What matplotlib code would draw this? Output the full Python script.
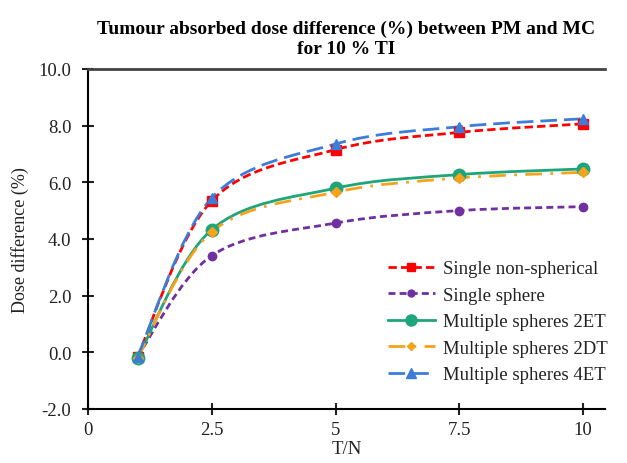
import numpy as np
import matplotlib
matplotlib.use("Agg")
import matplotlib.pyplot as plt
from matplotlib.path import Path
from matplotlib.patches import PathPatch
from matplotlib.lines import Line2D

plt.rcParams['font.family'] = ['Liberation Serif', 'DejaVu Serif']

tn = [1, 2.5, 5, 7.5, 10]
single_nonsph = [-0.15, 5.35, 7.15, 7.76, 8.06]
single_sphere = [-0.15, 3.41, 4.56, 5.0, 5.14]
multi_2et = [-0.2, 4.33, 5.79, 6.27, 6.47]
multi_2dt = [-0.2, 4.25, 5.65, 6.15, 6.35]
multi_4et = [-0.15, 5.45, 7.35, 7.96, 8.24]

labels = ["Single non-spherical", "Single sphere", "Multiple spheres 2ET",
          "Multiple spheres 2DT", "Multiple spheres 4ET"]


def smooth_path(x, y):
    # Excel-like smoothed line: Catmull-Rom segments as cubic Beziers
    p = np.column_stack([x, y]).astype(float)
    n = len(p)
    verts = [p[0]]
    codes = [Path.MOVETO]
    for i in range(n - 1):
        p0 = p[i - 1] if i > 0 else p[i]
        p3 = p[i + 2] if i + 2 < n else p[i + 1]
        c1 = p[i] + (p[i + 1] - p0) / 6
        c2 = p[i + 1] - (p3 - p[i]) / 6
        verts += [c1, c2, p[i + 1]]
        codes += [Path.CURVE4] * 3
    return Path(verts, codes)


fig = plt.figure(figsize=(6.27, 4.64), dpi=100)
ax = fig.add_axes([0.1404, 0.1164, 0.825, 0.733])

styles = [
    dict(color="#FF0000", ls=(0, (3, 1.5)), marker="s", ms=7),
    dict(color="#7030A0", ls=(0, (2.5, 1.5)), marker="o", ms=6),
    dict(color="#1FA57A", ls="-", marker="o", ms=9),
    dict(color="#F7A21B", ls=(0, (6, 3, 1, 3)), marker="D", ms=5.5),
    dict(color="#3B7DD8", ls=(0, (6, 2.5)), marker="^", ms=7.5),
]
series = [single_nonsph, single_sphere, multi_2et, multi_2dt, multi_4et]

handles = []
for vals, st, lab in zip(series, styles, labels):
    patch = PathPatch(smooth_path(tn, vals), facecolor="none", edgecolor=st["color"],
                      lw=2, linestyle=st["ls"], zorder=2)
    ax.add_patch(patch)
    ax.plot(tn, vals, linestyle="none", marker=st["marker"], ms=st["ms"],
            color=st["color"], zorder=3)
    handles.append(Line2D([], [], color=st["color"], lw=2, linestyle=st["ls"],
                          marker=st["marker"], ms=st["ms"] - 1))

ax.set_xlim(0, 10.45)
ax.set_ylim(-2, 10)
ax.set_xticks([0, 2.5, 5, 7.5, 10])
ax.set_xticklabels(["0", "2.5", "5", "7.5", "10"])
ax.set_yticks(np.arange(-2, 10.1, 2))
ax.set_yticklabels(["%.1f" % v for v in np.arange(-2, 10.1, 2)])
ax.tick_params(direction="inout", length=8, width=1.5, labelsize=13.5,
               colors="#222222")
ax.tick_params(axis="x", pad=5)
ax.tick_params(axis="y", pad=8)
ax.spines["right"].set_visible(False)
for s in ["left", "bottom"]:
    ax.spines[s].set_linewidth(1.5)
ax.spines["top"].set_linewidth(2)
ax.spines["top"].set_color("#444444")

ax.set_xlabel("T/N", fontsize=13.5, labelpad=1, color="#222222")
ax.set_ylabel("Dose difference (%)", fontsize=13, labelpad=7, color="#222222")
fig.text(0.552, 1 - 39 / 464,
         "Tumour absorbed dose difference (%) between PM and MC\nfor 10 % TI",
         ha="center", va="center", fontsize=14, fontweight="bold",
         linespacing=1.25)

ax.legend(handles, labels, loc="lower left", bbox_to_anchor=(0.592, 0.135),
          bbox_transform=fig.transFigure, frameon=False, fontsize=13.5,
          handlelength=2.5, handletextpad=0.45, labelspacing=0.5,
          labelcolor="#222222")

fig.savefig("out.png", dpi=100)
